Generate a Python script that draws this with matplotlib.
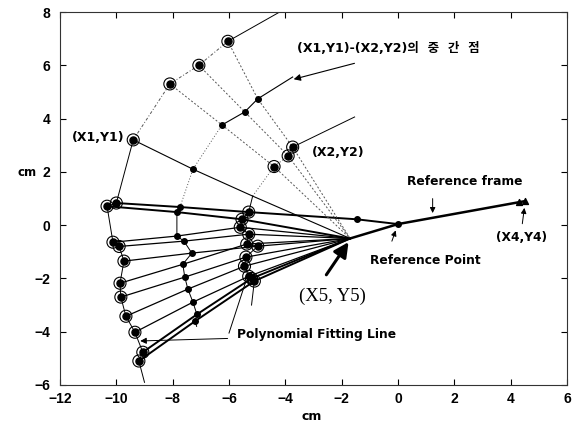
import matplotlib.pyplot as plt

# shared points (cm)
center_x, center_y = -1.7, -0.5        # (X5, Y5)
ref_x, ref_y = 0.0, 0.04               # reference point
x4_x = [4.3, 4.5]                      # (X4, Y4)
x4_y = [0.86, 0.9]
via_x, via_y = -1.47, 0.22             # dot on the top line towards the reference point

# lower fan: outer arc -> middle arc -> inner arc -> (X5, Y5)
fan_outer_x = [-10.0, -10.33, -10.12, -9.9, -9.73, -9.87, -9.84, -9.66, -9.34, -9.06, -9.2]
fan_outer_y = [0.83, 0.71, -0.64, -0.8, -1.35, -2.18, -2.7, -3.42, -4.02, -4.77, -5.1]
fan_mid_x = [-7.74, -7.85, -7.85, -7.6, -7.32, -7.64, -7.57, -7.46, -7.28, -7.14, -7.2]
fan_mid_y = [0.68, 0.49, -0.41, -0.6, -1.05, -1.47, -1.95, -2.4, -2.89, -3.35, -3.6]
fan_inner_x = [-5.3, -5.54, -5.6, -5.3, -4.98, -5.37, -5.4, -5.45, -5.3, -5.2, -5.1]
fan_inner_y = [0.49, 0.22, -0.08, -0.34, -0.79, -0.71, -1.2, -1.54, -1.92, -2.0, -2.1]

# upper fan: (X1,Y1) line and the (X1,Y1)-(X2,Y2) pairs
upper_outer_x = [-9.4, -8.1, -7.07, -6.04]
upper_outer_y = [3.2, 5.3, 6.0, 6.9]
upper_mid_x = [-7.28, -6.25, -5.44, -4.98]
upper_mid_y = [2.1, 3.76, 4.25, 4.74]
upper_inner_x = [-5.16, -4.4, -3.9, -3.74]
upper_inner_y = [1.09, 2.2, 2.6, 2.93]

# arc ends
outer_end_x = [-9.0, -4.2]
outer_end_y = [-5.9, 8.0]
mid_end_x = [-7.15, -3.74]
mid_end_y = [-3.8, 5.56]
inner_end_x = [-5.2, -1.54]
inner_end_y = [-3.0, 4.06]

fig = plt.figure(figsize=(5.81, 4.25), dpi=100)
ax = fig.add_axes([60 / 581, 40 / 425, 507 / 581, 373 / 425])

font = dict(family="DejaVu Sans", weight="bold")
gray = "#555555"

# outer arc
ox = [outer_end_x[0]] + fan_outer_x[::-1] + [upper_outer_x[0]]
oy = [outer_end_y[0]] + fan_outer_y[::-1] + [upper_outer_y[0]]
ax.plot(ox, oy, color="k", lw=0.7)
ax.plot(upper_outer_x, upper_outer_y, color=gray, lw=0.7, ls=(0, (3, 2, 1, 2)))
ax.plot([upper_outer_x[-1], outer_end_x[1]], [upper_outer_y[-1], outer_end_y[1]], color="k", lw=0.7)

# middle arc and the mid-point line
mx = [mid_end_x[0]] + fan_mid_x[::-1] + upper_mid_x[:2]
my = [mid_end_y[0]] + fan_mid_y[::-1] + upper_mid_y[:2]
ax.plot(mx[:-2], my[:-2], color="k", lw=0.7)
ax.plot(mx[-3:], my[-3:], color=gray, lw=0.7, ls=(0, (1, 2)))
ax.plot(upper_mid_x[1:] + [mid_end_x[1]], upper_mid_y[1:] + [mid_end_y[1]], color="k", lw=0.8)

# inner arc
pts = sorted(zip(fan_inner_y, fan_inner_x))
ix = [inner_end_x[0]] + [p[1] for p in pts]
iy = [inner_end_y[0]] + [p[0] for p in pts]
ax.plot(ix + [upper_inner_x[0]], iy + [upper_inner_y[0]], color="k", lw=0.7)
ax.plot(upper_inner_x, upper_inner_y, color=gray, lw=0.7, ls=(0, (1, 2)))
ax.plot([upper_inner_x[-1], inner_end_x[1]], [upper_inner_y[-1], inner_end_y[1]], color="k", lw=0.7)

# radial lines of the lower fan
for i in range(len(fan_outer_x)):
    xs = [fan_outer_x[i], fan_mid_x[i], fan_inner_x[i]]
    ys = [fan_outer_y[i], fan_mid_y[i], fan_inner_y[i]]
    if i == 0:
        xs += [via_x, ref_x]
        ys += [via_y, ref_y]
    else:
        xs.append(center_x)
        ys.append(center_y)
    ax.plot(xs, ys, color="k", lw=1.4 if i in (0, 1, 9, 10) else 0.9)

# radial lines of the upper fan
for i in range(len(upper_outer_x)):
    xs = [upper_outer_x[i], upper_mid_x[i], upper_inner_x[i], center_x]
    ys = [upper_outer_y[i], upper_mid_y[i], upper_inner_y[i], center_y]
    if i == 0:
        ax.plot(xs, ys, color="k", lw=0.8)
    else:
        ax.plot(xs, ys, color=gray, lw=0.7, ls=(0, (2, 2)))

# reference frame
ax.plot([center_x, ref_x] + x4_x[-1:], [center_y, ref_y] + x4_y[-1:], color="k", lw=1.8)

# markers
ring_x = fan_outer_x + fan_inner_x + upper_outer_x + upper_inner_x[1:]
ring_y = fan_outer_y + fan_inner_y + upper_outer_y + upper_inner_y[1:]
ax.scatter(ring_x, ring_y, s=75, facecolors="none", edgecolors="k", lw=0.8, zorder=3)
ax.scatter(ring_x, ring_y, s=26, color="k", zorder=3)
ax.scatter(fan_mid_x + upper_mid_x + [via_x, ref_x], fan_mid_y + upper_mid_y + [via_y, ref_y],
           s=16, color="k", zorder=3)
ax.scatter(x4_x, x4_y, s=18, color="k", marker="^", zorder=3)

# annotations
ax.text(-3.6, 6.62, "(X1,Y1)-(X2,Y2)의  중  간  점", fontsize=9,
        family=["DejaVu Sans", "Noto Sans CJK KR"], weight="bold", va="center")
ax.annotate("", xy=(-3.8, 5.45), xytext=(-1.45, 6.1),
            arrowprops=dict(arrowstyle="-|>", color="k", lw=0.8, mutation_scale=10))
ax.text(-11.57, 3.3, "(X1,Y1)", fontsize=9, va="center", **font)
ax.text(-3.06, 2.74, "(X2,Y2)", fontsize=9, va="center", **font)
ax.text(2.36, 1.65, "Reference frame", fontsize=8.8, ha="center", va="center", **font)
ax.annotate("", xy=(1.23, 0.35), xytext=(1.23, 1.1),
            arrowprops=dict(arrowstyle="-|>", color="k", lw=0.7, mutation_scale=8))
ax.text(0.98, -1.32, "Reference Point", fontsize=8.8, ha="center", va="center", **font)
ax.annotate("", xy=(-0.05, -0.1), xytext=(-0.25, -0.7),
            arrowprops=dict(arrowstyle="-|>", color="k", lw=0.7, mutation_scale=8))
ax.text(4.38, -0.45, "(X4,Y4)", fontsize=8.8, ha="center", va="center", **font)
ax.annotate("", xy=(4.5, 0.75), xytext=(4.4, -0.05),
            arrowprops=dict(arrowstyle="-|>", color="k", lw=0.7, mutation_scale=8))
ax.text(-2.32, -2.67, "(X5, Y5)", fontsize=13.5, ha="center", va="center", family="Liberation Serif")
ax.annotate("", xy=(center_x, center_y - 0.05), xytext=(-2.6, -1.95),
            arrowprops=dict(arrowstyle="-|>", color="k", lw=2.2, mutation_scale=22))
ax.text(-5.72, -4.1, "Polynomial Fitting Line", fontsize=8.8, va="center", **font)
ax.annotate("", xy=(-9.25, -4.35), xytext=(-5.95, -4.25),
            arrowprops=dict(arrowstyle="-|>", color="k", lw=0.7, mutation_scale=9))
ax.plot([-6.0, -5.4], [-4.05, -2.1], color="k", lw=0.7)

ax.set_xlim(-12, 6)
ax.set_ylim(-6, 8)
ax.set_xticks(range(-12, 7, 2))
ax.set_yticks(range(-6, 9, 2))
ax.tick_params(direction="in", top=True, right=True, length=4, width=0.8, labelsize=10)
ax.tick_params(axis="y", pad=7)
ax.tick_params(axis="x", pad=5)
for lab in ax.get_xticklabels() + ax.get_yticklabels():
    lab.set_fontfamily("Liberation Sans")
    lab.set_fontweight("bold")
for sp in ax.spines.values():
    sp.set_linewidth(0.8)
    sp.set_color("#333333")

fig.text(17 / 581, 1 - 172 / 425, "cm", fontsize=8.5, va="center", **font)
fig.text(312 / 581, 1 - 417 / 425, "cm", fontsize=9, ha="center", va="center", **font)

fig.savefig("out.png", dpi=100)
